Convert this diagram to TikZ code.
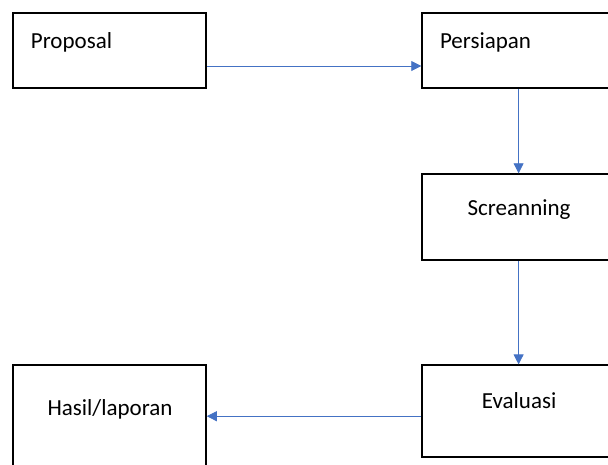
\documentclass[tikz,border=0pt]{standalone}
\usepackage{fontspec}
\setmainfont{Carlito}
\usetikzlibrary{
  arrows.meta,
  positioning,
}
\definecolor{officeblue}{RGB}{68, 114, 196}
\tikzstyle{stage} = [
  rectangle,
  draw,
  line width=1.6pt,
  minimum width=193,
  inner sep=0pt,
]
\tikzstyle{flow} = [
  -{Triangle[length=10pt,width=10pt]},
  line width=0.8pt,
  officeblue,
]
\tikzstyle{caption} = [
  font=\fontsize{23}{27}\selectfont,
  inner sep=0pt,
]

\begin{document}
\begin{tikzpicture}[node distance=0mm and 0mm]
      \useasboundingbox (0,0) rectangle (608pt,-464pt);
      \clip (0,0) rectangle (608pt,-464pt);

      \node[stage,minimum height=75] (prop) at (109.5pt,-50.5pt) {};
      \node[stage,minimum height=75] (pers) [right=214.5pt of prop] {};
      \node[stage,minimum height=86] (scr)  [below=84.5pt of pers]  {};
      \node[stage,minimum height=92] (eval) [below=103.5pt of scr]  {};
      \node[stage,minimum height=120,anchor=north west] (hasil) at (prop.west |- eval.north) {};

      \node[caption,anchor=base west] (propt)  at ([xshift=18.5pt,yshift=-36.5pt]prop.north west) {Proposal};
      \node[caption,anchor=base west] (perst)  at ([xshift=18.5pt,yshift=-36.5pt]pers.north west) {Persiapan};
      \node[caption,anchor=base]      (scrt)   at ([xshift=0.5pt,yshift=-42.5pt]scr.north)  {Screanning};
      \node[caption,anchor=base]      (evalt)  at ([xshift=0.5pt,yshift=-44.5pt]eval.north) {Evaluasi};
      \node[caption,anchor=base]      (hasilt) at ([xshift=0.5pt,yshift=-51.5pt]hasil.north) {Hasil/laporan};

      \draw[flow] ([yshift=-15.5pt]prop.east) -- ([yshift=-15.5pt]pers.west);
      \draw[flow] (pers.south) -- (scr.north);
      \draw[flow] (scr.south) -- (eval.north);
      \draw[flow] ([yshift=-5pt]eval.west) -- ([yshift=-5pt]eval.west -| hasil.east);

\end{tikzpicture}
\end{document}
